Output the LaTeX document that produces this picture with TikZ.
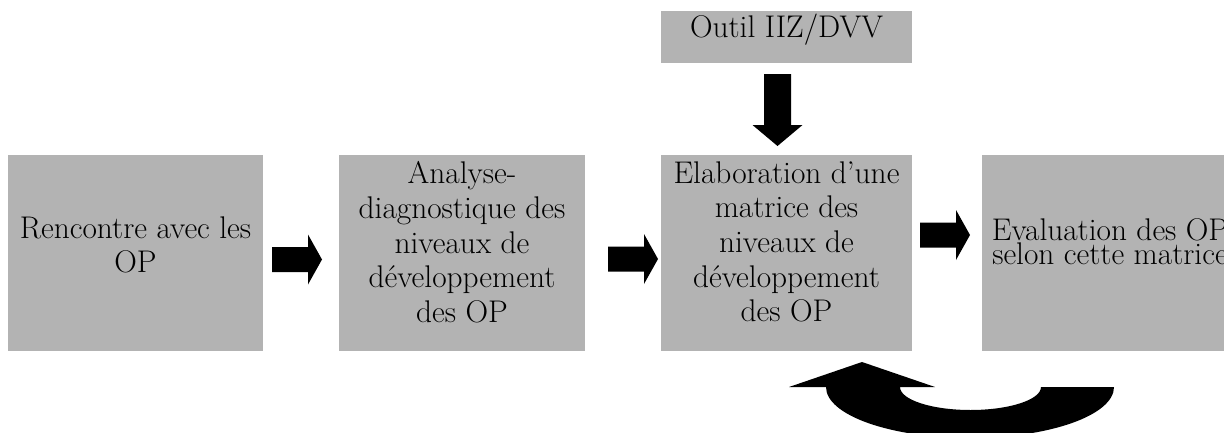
\documentclass[tikz,border=0pt]{standalone}
\usetikzlibrary{calc}
\definecolor{boxgray}{RGB}{179,179,179}
\begin{document}
\begin{tikzpicture}[x=0.75pt,y=-0.75pt,
  box/.style={fill=boxgray, draw=none, inner sep=0pt, outer sep=0pt, minimum height=147pt},
  txt/.style={inner sep=0pt, align=center, anchor=north, font=\fontsize{23.5}{26}\selectfont},
  rarrow/.pic={\fill[black] (0,-12.5) -- (36,-12.5) -- (36,-25) -- (50,0) -- (36,25) -- (36,12.5) -- (0,12.5) -- cycle;},
  darrow/.pic={\fill[black] (-13.5,0) -- (13.5,0) -- (13.5,51) -- (25,51) -- (0,72) -- (-25,51) -- (-13.5,51) -- cycle;}
]
\useasboundingbox (0,0) rectangle (1224,432);
\clip (0,0) rectangle (1224,432);

% boxes
\node[box, minimum width=191.25pt] (b1) at (135.5,253) {};
\node[box, minimum width=184.5pt] (b2) at (462,253) {};
\node[box, minimum width=188.25pt] (b3) at (786.5,253) {};
\node[box, minimum width=190.5pt] (b4) at (1109,253) {};
\node[box, minimum width=188.25pt, minimum height=39pt] (b0) at (786.5,37) {};

% texts
\node[txt, anchor=base] (t0) at (786.5,37) {Outil IIZ/DVV};
\node[txt] (t1) at (135.5,216.3) {Rencontre avec les\\OP};
\node[txt] (t2) at (462,161.3) {Analyse-\\diagnostique des\\niveaux de\\développement\\des OP};
\node[txt] (t3) at (786.5,161.3) {Elaboration d’une\\matrice des\\niveaux de\\développement\\des OP};
\node[txt, font=\fontsize{23.5}{18}\selectfont] (t4) at (1110,218.3) {Evaluation des OP\\selon cette matrice};

% block arrows
\pic at (272,259.5) {rarrow};
\pic at (608,259) {rarrow};
\pic at (920,235) {rarrow};
\pic at (777.5,74) {darrow};

% curved return arrow
\fill[black] (789,387) -- (862,362) -- (935,387) -- (900,387)
  arc[start angle=180,end angle=0,x radius=70.5,y radius=23] -- (1114,387)
  arc[start angle=0,end angle=180,x radius=144,y radius=51] -- cycle;
\end{tikzpicture}
\end{document}
